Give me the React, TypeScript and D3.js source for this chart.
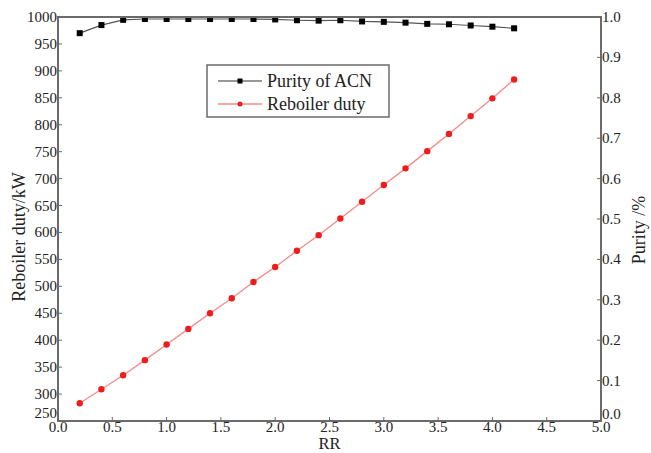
import React from "react";
import * as d3 from "d3";

const rr = [0.2, 0.4, 0.6, 0.8, 1.0, 1.2, 1.4, 1.6, 1.8, 2.0, 2.2, 2.4, 2.6, 2.8, 3.0, 3.2, 3.4, 3.6, 3.8, 4.0, 4.2];
const reboilerDuty = [283, 309, 335, 363, 392, 421, 450, 478, 508, 536, 566, 595, 626, 657, 688, 719, 751, 783, 816, 849, 884];
const purity = [0.96, 0.98, 0.993, 0.995, 0.995, 0.995, 0.995, 0.995, 0.995, 0.994, 0.992, 0.991, 0.992, 0.989, 0.988, 0.986, 0.983, 0.982, 0.979, 0.976, 0.972];
const xTicks = [0, 0.5, 1, 1.5, 2, 2.5, 3, 3.5, 4, 4.5, 5];
const leftTicks = [250, 300, 350, 400, 450, 500, 550, 600, 650, 700, 750, 800, 850, 900, 950, 1000];
const rightTicks = [0, 0.1, 0.2, 0.3, 0.4, 0.5, 0.6, 0.7, 0.8, 0.9, 1.0];
const legendLabels = ["Purity of ACN", "Reboiler duty"];

const W = 651, H = 453;
const L = 58, R = 601, T = 17, B = 421;
const font = "Liberation Serif, DejaVu Serif, Times New Roman, serif";

export default function App() {
  const x = d3.scaleLinear().domain([0, 5]).range([L, R]);
  const yL = d3.scaleLinear().domain([250, 1000]).range([B, T]);
  const yR = d3.scaleLinear().domain([0, 1]).range([B, T]);
  const dutyLine = d3.line<number>().x((_, i) => x(rr[i])).y((d) => yL(d));
  const purLine = d3.line<number>().x((_, i) => x(rr[i])).y((d) => yR(d));
  const axisColor = "#6b6b6b";
  const txt = { fontFamily: font, fill: "#222" } as React.CSSProperties;
  return (
    <svg width={W} height={H} style={{ position: "absolute", left: 0, top: 0, background: "#fff", fontFamily: font }}>
      <rect x={0} y={0} width={W} height={H} fill="#fff" />
      {/* purity */}
      <path d={purLine(purity) || ""} fill="none" stroke="#555" strokeWidth={1.2} />
      {purity.map((d, i) => (
        <rect key={"p" + i} x={x(rr[i]) - 3} y={yR(d) - 3} width={6} height={6} fill="#000" />
      ))}
      {/* duty */}
      <path d={dutyLine(reboilerDuty) || ""} fill="none" stroke="#f58a8a" strokeWidth={1.3} />
      {reboilerDuty.map((d, i) => (
        <circle key={"d" + i} cx={x(rr[i])} cy={yL(d)} r={3.2} fill="#ee1c1c" />
      ))}
      {/* frame */}
      <rect x={L} y={T} width={R - L} height={B - T} fill="none" stroke={axisColor} strokeWidth={2} />
      {/* x ticks */}
      {xTicks.map((t) => (
        <g key={"x" + t}>
          <line x1={x(t)} x2={x(t)} y1={B} y2={B - 4} stroke={axisColor} strokeWidth={1} />
          <text x={x(t)} y={B + 10.5} fontSize={15} style={txt} textAnchor="middle">
            {t.toFixed(1)}
          </text>
        </g>
      ))}
      {leftTicks.map((t, i) => (
        <g key={"l" + t}>
          <line x1={L} x2={L + 4} y1={yL(t)} y2={yL(t)} stroke={axisColor} strokeWidth={1} />
          <text x={L - 1} y={yL(t) + (i === 0 ? -3 : 5)} fontSize={15} style={txt} textAnchor="end">
            {t}
          </text>
        </g>
      ))}
      {rightTicks.map((t, i) => (
        <g key={"r" + t}>
          <line x1={R} x2={R - 4} y1={yR(t)} y2={yR(t)} stroke={axisColor} strokeWidth={1} />
          <text x={R + 1} y={yR(t) + (i === 0 ? -2 : 5)} fontSize={15} style={txt} textAnchor="start">
            {t.toFixed(1)}
          </text>
        </g>
      ))}
      <text x={(L + R) / 2} y={449} fontSize={16.5} style={txt} textAnchor="middle">RR</text>
      <text transform={`translate(25, ${(T + B) / 2 + 18}) rotate(-90)`} fontSize={18} style={txt} textAnchor="middle">
        Reboiler duty/kW
      </text>
      <text transform={`translate(645, ${230}) rotate(-90)`} fontSize={18} style={txt} textAnchor="middle">
        Purity /%
      </text>
      {/* legend */}
      <rect x={207} y={65} width={182} height={52} fill="#fff" stroke={axisColor} strokeWidth={1.5} />
      <line x1={218} x2={262} y1={81} y2={81} stroke="#333" strokeWidth={1.2} />
      <rect x={237.5} y={78.5} width={5} height={5} fill="#000" />
      <text x={267} y={87} fontSize={18} style={txt}>{legendLabels[0]}</text>
      <line x1={218} x2={262} y1={104} y2={104} stroke="#f58a8a" strokeWidth={1.3} />
      <circle cx={240} cy={104} r={2.5} fill="#ee1c1c" />
      <text x={267} y={110} fontSize={18} style={txt}>{legendLabels[1]}</text>
    </svg>
  );
}
